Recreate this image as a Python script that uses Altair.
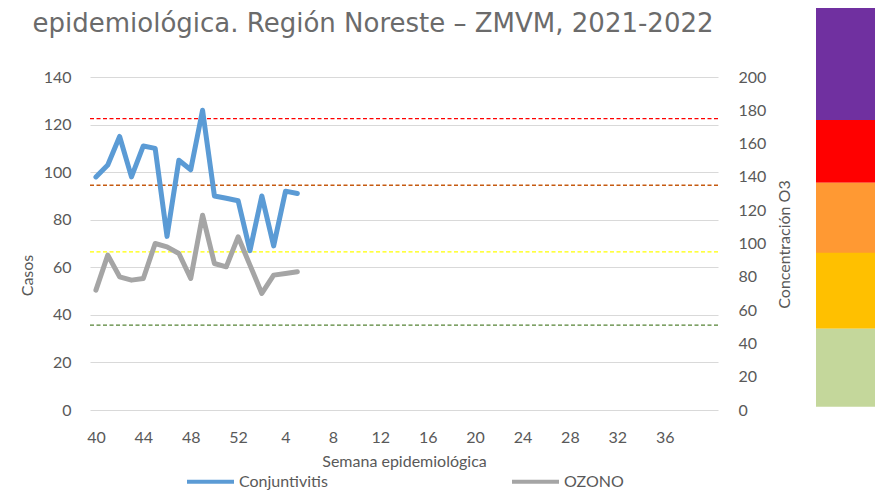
import altair as alt
import pandas as pd

# ---------------- data ----------------
semanas_2021 = [40, 41, 42, 43, 44, 45, 46, 47, 48, 49, 50, 51, 52]
semanas_2022 = list(range(1, 41))
conjuntivitis = [98, 103, 115, 98, 111, 110, 73, 105, 101, 126, 90, 89, 88, 67, 90, 69, 92, 91]
ozono = [72, 93, 80, 78, 79, 100, 98, 94, 79, 117, 88, 86, 104, 87, 70, 81, 82, 83]
series = ["Conjuntivitis", "OZONO"]
series_colors = ["#5B9BD5", "#A5A5A5"]

umbral_valores = [175, 135, 95, 51]
umbral_colores = ["#FF0000", "#C55A11", "#FFFF00", "#548235"]

banda_desde = [136.5, 174.2, 93.3, 48.8, 2.0]
banda_hasta = [183.2, 246.2, 136.5, 94.5, 48.8]
banda_colores = ["#FF0000", "#7030A0", "#FF9933", "#FFC000", "#C4D79B"]

titulo_1 = "Casos de Conjuntivitis y niveles máximos de ozono por semana"
titulo_2 = "epidemiológica. Región Noreste – ZMVM, 2021-2022"

# ---------------- tables ----------------
keys = [f"2021-{w}" for w in semanas_2021] + [f"2022-{w}" for w in semanas_2022]
tick_keys = keys[0:49:4]

df_casos = pd.DataFrame({"key": keys[:len(conjuntivitis)], "valor": conjuntivitis, "serie": series[0]})
df_ozono = pd.DataFrame({"key": keys[:len(ozono)], "valor": ozono, "serie": series[1]})
df_umbral = pd.DataFrame({"valor": umbral_valores, "color": umbral_colores})
df_banda = pd.DataFrame({"y1": banda_desde, "y2": banda_hasta, "color": banda_colores})

FONT = "Lato"
GREY = "#595959"

x_enc = alt.X(
    "key:O",
    sort=keys,
    scale=alt.Scale(domain=keys, padding=0.5),
    axis=alt.Axis(
        values=tick_keys,
        labelExpr="split(datum.value, '-')[1]",
        labelAngle=0,
        labelFont=FONT,
        labelFontSize=16,
        labelColor=GREY,
        labelPadding=19,
        ticks=False,
        domain=False,
        title="Semana epidemiológica",
        titleFont=FONT,
        titleFontSize=16,
        titleFontWeight="normal",
        titleColor=GREY,
        titleX=314,
        titleY=51,
        titleBaseline="middle",
    ),
)

legend = alt.Legend(
    orient="none",
    legendX=95,
    legendY=379,
    direction="horizontal",
    columns=2,
    title=None,
    symbolType="stroke",
    symbolSize=2209,
    symbolStrokeWidth=4,
    labelFont=FONT,
    labelFontSize=16,
    labelColor=GREY,
    labelOffset=3,
    columnPadding=176,
)
color_enc = alt.Color("serie:N", scale=alt.Scale(domain=series, range=series_colors), legend=legend)

oz_scale = alt.Scale(domain=[0, 200])

bandas = alt.Chart(df_banda).mark_rect().encode(
    y=alt.Y("y1:Q", scale=oz_scale, axis=None),
    y2="y2:Q",
    x=alt.value(726),
    x2=alt.value(793),
    fill=alt.Fill("color:N", scale=None),
)

umbrales = alt.Chart(df_umbral).mark_rule(strokeDash=[4, 2.5], strokeWidth=1.3).encode(
    y=alt.Y("valor:Q", scale=oz_scale, axis=None),
    stroke=alt.Stroke("color:N", scale=None),
)

casos = alt.Chart(df_casos).mark_line(strokeWidth=5, strokeCap="round", strokeJoin="round").encode(
    x=x_enc,
    y=alt.Y(
        "valor:Q",
        scale=alt.Scale(domain=[0, 140]),
        axis=alt.Axis(
            orient="left",
            values=[0, 20, 40, 60, 80, 100, 120, 140],
            labelFont=FONT,
            labelFontSize=16,
            labelColor=GREY,
            labelPadding=19,
            ticks=False,
            domain=False,
            grid=True,
            gridColor="#D9D9D9",
            gridWidth=1,
            title="Casos",
            titleFont=FONT,
            titleFontSize=16,
            titleFontWeight="normal",
            titleColor=GREY,
            titleAngle=270,
            titleX=-63,
            titleY=198,
            titleBaseline="middle",
        ),
    ),
    color=color_enc,
)

ozono_line = alt.Chart(df_ozono).mark_line(strokeWidth=5, strokeCap="round", strokeJoin="round").encode(
    x=x_enc,
    y=alt.Y(
        "valor:Q",
        scale=oz_scale,
        axis=alt.Axis(
            orient="right",
            values=[0, 20, 40, 60, 80, 100, 120, 140, 160, 180, 200],
            labelFont=FONT,
            labelFontSize=16,
            labelColor=GREY,
            labelPadding=20,
            ticks=False,
            domain=False,
            grid=False,
            title="Concentración O3",
            titleFont=FONT,
            titleFontSize=16,
            titleFontWeight="normal",
            titleColor=GREY,
            titleAngle=270,
            titleX=66,
            titleY=167,
            titleBaseline="middle",
        ),
    ),
    color=color_enc,
)

t1 = alt.Chart(pd.DataFrame({"t": [titulo_1]})).mark_text(
    font="DejaVu Sans", fontSize=26, color="#6B6B6B", align="center", baseline="alphabetic"
).encode(text="t:N", x=alt.value(283), y=alt.value(-80))

t2 = alt.Chart(pd.DataFrame({"t": [titulo_2]})).mark_text(
    font="DejaVu Sans", fontSize=26, color="#6B6B6B", align="center", baseline="alphabetic"
).encode(text="t:N", x=alt.value(283), y=alt.value(-45))

chart = (
    alt.layer(bandas, umbrales, casos, ozono_line, t1, t2)
    .resolve_scale(y="independent")
    .properties(
        width=628,
        height=333,
        autosize=alt.AutoSizeParams(type="none"),
        padding={"left": 82, "top": 69, "right": 157, "bottom": 82},
    )
    .configure_view(strokeWidth=0)
)

chart.save("out.html", embed_options={"renderer": "svg", "actions": False})
